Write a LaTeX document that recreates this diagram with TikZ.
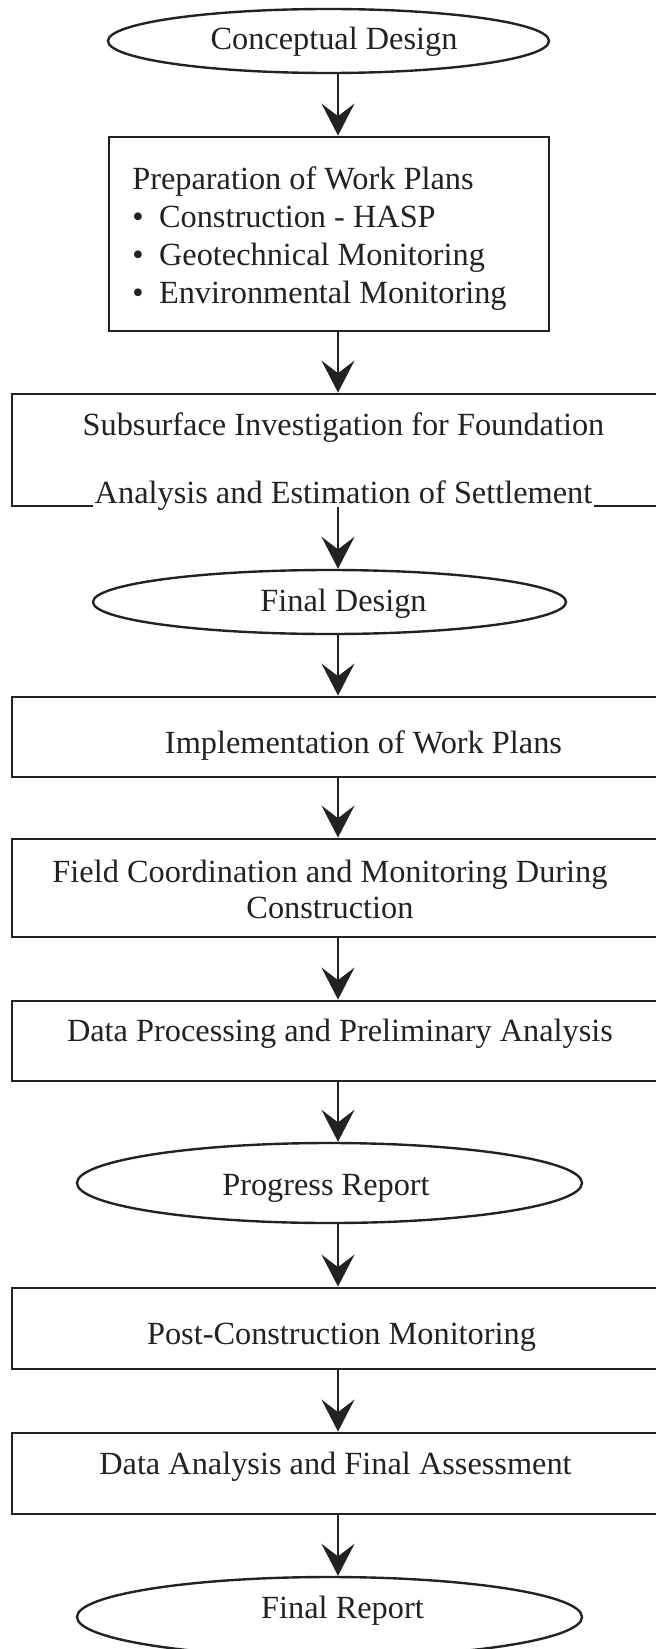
\documentclass[tikz,border=0pt]{standalone}
\usepackage{fontspec}
\setmainfont{Liberation Serif}
\usetikzlibrary{arrows.meta,shapes.geometric}

\definecolor{ink}{HTML}{222222}

\tikzset{
  stepbox/.style={draw=ink,line width=2pt,rectangle,inner sep=0pt,minimum width=17.2cm},
  stepoval/.style={draw=ink,line width=1.7pt,ellipse,inner sep=0pt},
  steptxt/.style={text=ink,inner sep=0pt,anchor=base,align=center,font=\fontsize{23}{27}\selectfont},
  flow/.style={draw=ink,line width=1.4pt,-{Stealth[length=22.8pt,width=23.5pt,inset=9pt]}}
}

\begin{document}
\begin{tikzpicture}
  \useasboundingbox (0,0) rectangle (16.4,-41.225);
  \clip (0,0) rectangle (16.4,-41.225);

  % Cadres et ellipses
  \node[stepoval,minimum width=11.025cm,minimum height=1.6cm] (concept) at (8.2125,-1.025) {};
  \node[stepbox,minimum width=11cm,minimum height=4.85cm] (prep) at (8.225,-5.85) {};
  \node[stepbox,minimum height=2.8cm] (subsurf) at (8.9,-11.25) {};
  \node[stepoval,minimum width=11.825cm,minimum height=1.6cm] (fdesign) at (8.2375,-15.05) {};
  \node[stepbox,minimum height=2cm] (impl) at (8.9,-18.425) {};
  \node[stepbox,minimum height=2.45cm] (field) at (8.9,-22.2) {};
  \node[stepbox,minimum height=2cm] (dproc) at (8.9,-26.025) {};
  \node[stepoval,minimum width=12.625cm,minimum height=2cm] (progress) at (8.2375,-29.575) {};
  \node[stepbox,minimum height=2.025cm] (post) at (8.9,-33.2125) {};
  \node[stepbox,minimum height=2.025cm] (danal) at (8.9,-36.8375) {};
  \node[stepoval,minimum width=12.625cm,minimum height=2cm] (freport) at (8.2375,-40.425) {};

  % Textes (base = derniere ligne)
  \node[steptxt] (concept-t) at (8.35,-1.25) {Conceptual Design};
  \node[steptxt,anchor=base west,align=left] (prep-t) at (3.3,-7.575)
    {Preparation of Work Plans\\
     \textbullet\hspace{11pt}Construction - HASP\\
     \textbullet\hspace{11pt}Geotechnical Monitoring\\
     \textbullet\hspace{11pt}Environmental Monitoring};
  \node[steptxt] (subsurf-a) at (8.5875,-10.875) {Subsurface Investigation for Foundation};
  \node[steptxt,fill=white,inner xsep=1pt] (subsurf-b) at (8.5875,-12.575) {Analysis and Estimation of Settlement};
  \node[steptxt] (fdesign-t) at (8.5875,-15.275) {Final Design};
  \node[steptxt] (impl-t) at (9.0875,-18.825) {Implementation of Work Plans};
  \node[steptxt] (field-t) at (8.25,-22.95)
    {Field Coordination and Monitoring During\\[-1.4pt]Construction};
  \node[steptxt] (dproc-t) at (8.5,-26.025) {Data Processing and Preliminary Analysis};
  \node[steptxt] (progress-t) at (8.15,-29.875) {Progress Report};
  \node[steptxt] (post-t) at (8.5375,-33.6) {Post-Construction Monitoring};
  \node[steptxt] (danal-t) at (8.3875,-36.85) {Data Analysis and Final Assessment};
  \node[steptxt] (freport-t) at (8.5625,-40.45) {Final Report};

  % Fleches
  \coordinate (axe) at (8.45,0);
  \foreach \a/\b in {concept/prep,prep/subsurf,subsurf/fdesign,fdesign/impl,
                     impl/field,field/dproc,dproc/progress,progress/post,
                     post/danal,danal/freport}
    \draw[flow] (axe |- \a.south) -- (axe |- \b.north);
\end{tikzpicture}
\end{document}
